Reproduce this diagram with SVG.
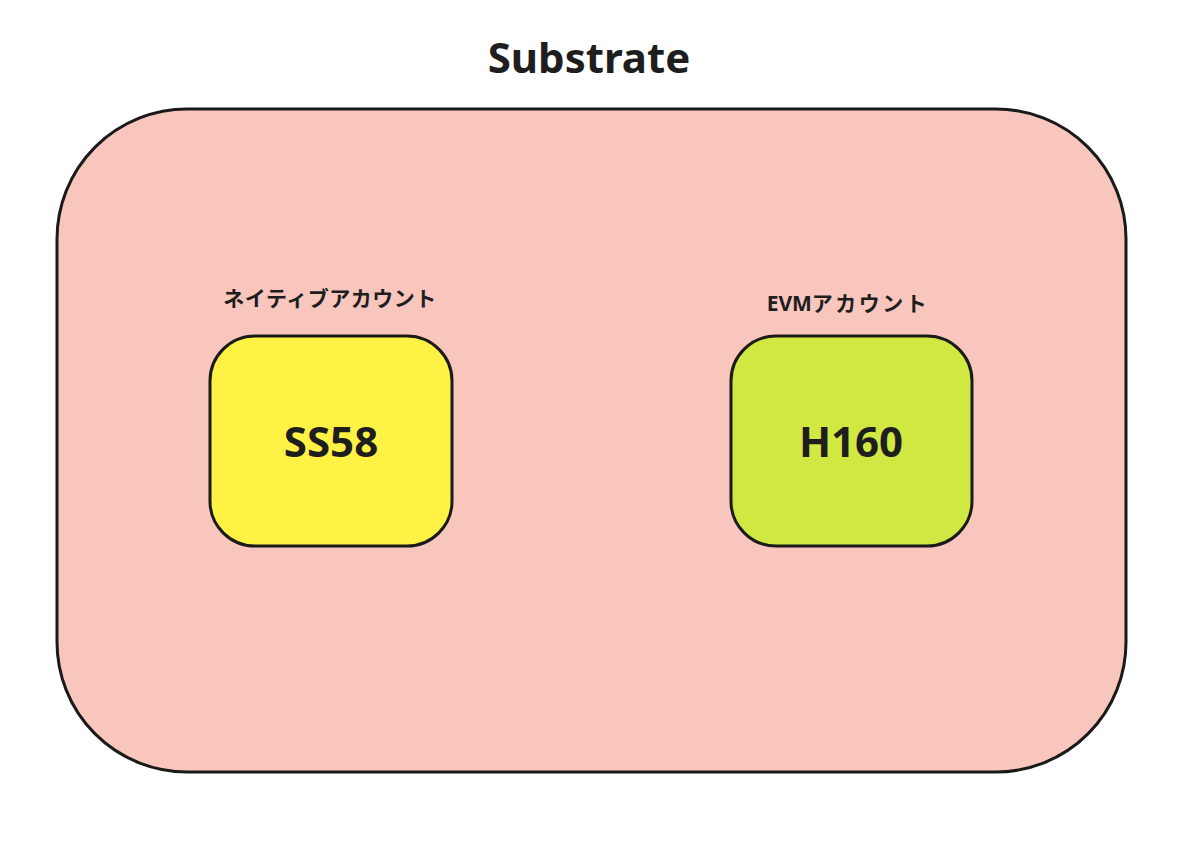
<svg xmlns="http://www.w3.org/2000/svg" width="1200" height="864" viewBox="0 0 1200 864">
<style>
.box{stroke:#1a1a1a;stroke-width:3}
.t{font-family:"Noto Sans","Noto Sans CJK JP",sans-serif;font-weight:bold;fill:#1e1e1e;text-anchor:middle}
.big{font-size:42px}
.lbl{font-size:21px}
</style>
<rect width="1200" height="864" fill="#ffffff"/>
<g id="title"><text class="t big" x="589" y="73">Substrate</text></g>
<g id="substrate"><rect class="box" x="57" y="109" width="1069" height="663" rx="130" ry="130" fill="#F9C6BD"/></g>
<g id="connectors"></g>
<g id="ss58">
<text class="t lbl" x="330" y="306" letter-spacing="0.5">ネイティブアカウント</text>
<rect class="box" x="210" y="336" width="242" height="210" rx="45" ry="45" fill="#FFF245"/>
<text class="t big" x="331" y="457">SS58</text>
</g>
<g id="h160">
<text class="t lbl" x="848" y="311" font-size="22">EVM<tspan letter-spacing="2.5">アカウント</tspan></text>
<rect class="box" x="731" y="336" width="241" height="210" rx="45" ry="45" fill="#D1E742"/>
<text class="t big" x="851" y="457">H160</text>
</g>
</svg>
